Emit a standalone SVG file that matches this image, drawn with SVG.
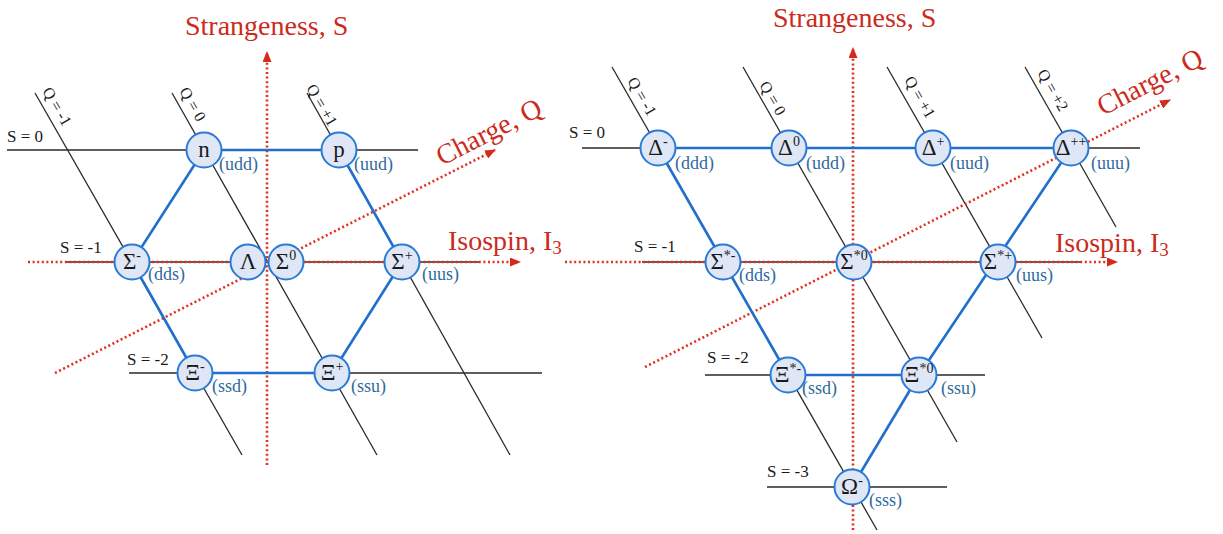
<svg xmlns="http://www.w3.org/2000/svg" width="1223" height="534" viewBox="0 0 1223 534" font-family="'Liberation Serif', 'Times New Roman', serif">
<style>
text{font-family:"Liberation Serif","Times New Roman",serif}
.sl{stroke:#2a2a2a;stroke-width:1.6;fill:none}
.ql{stroke:#2a2a2a;stroke-width:1.3;fill:none}
.ax{stroke:#e0301e;stroke-width:2.6;stroke-dasharray:2 2.6;fill:none}
.ed{stroke:#1f6fcc;stroke-width:2.6;fill:none}
.nd circle{fill:#dfe7f6;stroke:#2a7ad6;stroke-width:2}
.lab{font-family:"Liberation Serif",serif;font-size:23px;fill:#1a1a1a}
.sup{font-size:14px}
.qk{font-family:"Liberation Serif",serif;font-size:18px;fill:#2f6a9c}
.axt{font-family:"Liberation Serif",serif;font-size:28px;fill:#cc2a1c}
.sv{font-family:"Liberation Serif",serif;font-size:17px;fill:#1a1a1a}
.qv{font-family:"Liberation Serif",serif;font-size:16px;fill:#1a1a1a}
</style>
<defs>
<marker id="ar" viewBox="0 0 11 9" refX="10" refY="4.5" markerWidth="11" markerHeight="9" markerUnits="userSpaceOnUse" orient="auto">
<path d="M0,0 L11,4.5 L0,9 z" fill="#d42a1c"/>
</marker>
</defs>

<g id="grid-left">
<line class="sl" x1="7" y1="150" x2="418" y2="150"/>
<line class="sl" x1="66" y1="262" x2="480" y2="262"/>
<line class="sl" x1="129" y1="373" x2="542" y2="373"/>
<line class="ql" x1="35" y1="93" x2="242" y2="455"/>
<line class="ql" x1="172" y1="93" x2="377" y2="455"/>
<line class="ql" x1="307" y1="93" x2="510" y2="455"/>
<text class="sv" x="7" y="142">S = 0</text>
<text class="sv" x="60" y="253">S = -1</text>
<text class="sv" x="127" y="365">S = -2</text>
<text class="qv" transform="translate(42,91) rotate(60)">Q = -1</text>
<text class="qv" transform="translate(179,91) rotate(60)">Q = 0</text>
<text class="qv" transform="translate(306,88) rotate(60)">Q = +1</text>
</g>

<g id="grid-right">
<line class="sl" x1="582" y1="148" x2="1140" y2="148"/>
<line class="sl" x1="642" y1="262" x2="1082" y2="262"/>
<line class="sl" x1="705" y1="375" x2="985" y2="375"/>
<line class="sl" x1="767" y1="487" x2="947" y2="487"/>
<line class="ql" x1="612" y1="67" x2="877" y2="530"/>
<line class="ql" x1="743" y1="67" x2="957" y2="442"/>
<line class="ql" x1="887" y1="67" x2="1042" y2="338"/>
<line class="ql" x1="1025" y1="67" x2="1116" y2="227"/>
<text class="sv" x="569" y="138">S = 0</text>
<text class="sv" x="634" y="252">S = -1</text>
<text class="sv" x="707" y="363">S = -2</text>
<text class="sv" x="767" y="477">S = -3</text>
<text class="qv" transform="translate(627,81) rotate(60)">Q = -1</text>
<text class="qv" transform="translate(759,85) rotate(60)">Q = 0</text>
<text class="qv" transform="translate(904,80) rotate(60)">Q = +1</text>
<text class="qv" transform="translate(1037,73) rotate(60)">Q = +2</text>
</g>

<g id="axes">
<line class="ax" x1="267" y1="465" x2="267" y2="52" marker-end="url(#ar)"/>
<line class="ax" x1="28" y1="262" x2="520" y2="262" marker-end="url(#ar)"/>
<line class="ax" x1="55" y1="373" x2="495" y2="150" marker-end="url(#ar)"/>
<line class="ax" x1="853" y1="530" x2="853" y2="48" marker-end="url(#ar)"/>
<line class="ax" x1="565" y1="262" x2="1117" y2="262" marker-end="url(#ar)"/>
<line class="ax" x1="645" y1="367" x2="1170" y2="100" marker-end="url(#ar)"/>
<text class="axt" x="185" y="35">Strangeness, S</text>
<text class="axt" x="448" y="250">Isospin, I<tspan font-size="19" dy="4">3</tspan></text>
<text class="axt" transform="translate(442,166) rotate(-27)">Charge, Q</text>
<text class="axt" x="773" y="27">Strangeness, S</text>
<text class="axt" x="1055" y="252">Isospin, I<tspan font-size="19" dy="4">3</tspan></text>
<text class="axt" transform="translate(1103,116) rotate(-27)">Charge, Q</text>
</g>

<g id="connectors">
<line class="ed" x1="204" y1="150" x2="339" y2="150"/>
<line class="ed" x1="204" y1="150" x2="132" y2="262"/>
<line class="ed" x1="339" y1="150" x2="402" y2="262"/>
<line class="ed" x1="132" y1="262" x2="195" y2="373"/>
<line class="ed" x1="402" y1="262" x2="332" y2="373"/>
<line class="ed" x1="195" y1="373" x2="332" y2="373"/>
<line class="ed" x1="658" y1="148" x2="1071" y2="148"/>
<line class="ed" x1="658" y1="148" x2="788" y2="375"/>
<line class="ed" x1="1071" y1="148" x2="919" y2="375"/>
<line class="ed" x1="788" y1="375" x2="919" y2="375"/>
<line class="ed" x1="919" y1="375" x2="852" y2="487"/>
</g>

<g id="n" class="nd"><circle cx="204" cy="150" r="17.5"/><text class="lab" x="204" y="157" text-anchor="middle">n</text><text class="qk" x="219" y="170">(udd)</text></g>
<g id="p" class="nd"><circle cx="339" cy="150" r="17.5"/><text class="lab" x="339" y="157" text-anchor="middle">p</text><text class="qk" x="354" y="170">(uud)</text></g>
<g id="sigma-minus" class="nd"><circle cx="132" cy="262" r="17.5"/><text class="lab" x="132" y="269" text-anchor="middle">Σ<tspan class="sup" dy="-9">-</tspan></text><text class="qk" x="148" y="280">(dds)</text></g>
<g id="lambda" class="nd"><circle cx="248" cy="262" r="17.5"/><text class="lab" x="248" y="269" text-anchor="middle">Λ</text></g>
<g id="sigma-zero" class="nd"><circle cx="286" cy="262" r="17.5"/><text class="lab" x="286" y="269" text-anchor="middle">Σ<tspan class="sup" dy="-9">0</tspan></text></g>
<g id="sigma-plus" class="nd"><circle cx="402" cy="262" r="17.5"/><text class="lab" x="402" y="269" text-anchor="middle">Σ<tspan class="sup" dy="-9">+</tspan></text><text class="qk" x="422" y="280">(uus)</text></g>
<g id="xi-minus" class="nd"><circle cx="195" cy="373" r="17.5"/><text class="lab" x="195" y="380" text-anchor="middle">Ξ<tspan class="sup" dy="-9">-</tspan></text><text class="qk" x="212" y="392">(ssd)</text></g>
<g id="xi-plus" class="nd"><circle cx="332" cy="373" r="17.5"/><text class="lab" x="332" y="380" text-anchor="middle">Ξ<tspan class="sup" dy="-9">+</tspan></text><text class="qk" x="351" y="392">(ssu)</text></g>

<g id="delta-minus" class="nd"><circle cx="658" cy="148" r="17.5"/><text class="lab" x="658" y="155" text-anchor="middle">Δ<tspan class="sup" dy="-9">-</tspan></text><text class="qk" x="675" y="169">(ddd)</text></g>
<g id="delta-zero" class="nd"><circle cx="789" cy="148" r="17.5"/><text class="lab" x="789" y="155" text-anchor="middle">Δ<tspan class="sup" dy="-9">0</tspan></text><text class="qk" x="806" y="169">(udd)</text></g>
<g id="delta-plus" class="nd"><circle cx="933" cy="148" r="17.5"/><text class="lab" x="933" y="155" text-anchor="middle">Δ<tspan class="sup" dy="-9">+</tspan></text><text class="qk" x="950" y="169">(uud)</text></g>
<g id="delta-plusplus" class="nd"><circle cx="1071" cy="148" r="17.5"/><text class="lab" x="1071" y="155" text-anchor="middle">Δ<tspan class="sup" dy="-9">++</tspan></text><text class="qk" x="1091" y="169">(uuu)</text></g>
<g id="sigmastar-minus" class="nd"><circle cx="723" cy="262" r="17.5"/><text class="lab" x="723" y="269" text-anchor="middle">Σ<tspan class="sup" dy="-9">*-</tspan></text><text class="qk" x="739" y="281">(dds)</text></g>
<g id="sigmastar-zero" class="nd"><circle cx="854" cy="262" r="17.5"/><text class="lab" x="854" y="269" text-anchor="middle">Σ<tspan class="sup" dy="-9">*0</tspan></text></g>
<g id="sigmastar-plus" class="nd"><circle cx="998" cy="262" r="17.5"/><text class="lab" x="998" y="269" text-anchor="middle">Σ<tspan class="sup" dy="-9">*+</tspan></text><text class="qk" x="1016" y="281">(uus)</text></g>
<g id="xistar-minus" class="nd"><circle cx="788" cy="375" r="17.5"/><text class="lab" x="788" y="382" text-anchor="middle">Ξ<tspan class="sup" dy="-9">*-</tspan></text><text class="qk" x="802" y="394">(ssd)</text></g>
<g id="xistar-zero" class="nd"><circle cx="919" cy="375" r="17.5"/><text class="lab" x="919" y="382" text-anchor="middle">Ξ<tspan class="sup" dy="-9">*0</tspan></text><text class="qk" x="941" y="394">(ssu)</text></g>
<g id="omega-minus" class="nd"><circle cx="852" cy="487" r="17.5"/><text class="lab" x="852" y="494" text-anchor="middle">Ω<tspan class="sup" dy="-9">-</tspan></text><text class="qk" x="869" y="506">(sss)</text></g>
</svg>
